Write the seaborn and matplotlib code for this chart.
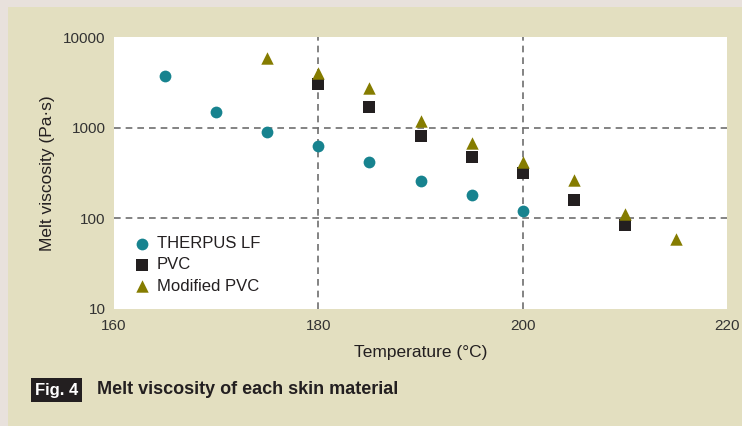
import matplotlib
matplotlib.use("Agg")
import matplotlib.pyplot as plt
import seaborn as sns
import pandas as pd
from matplotlib.patches import Rectangle
from matplotlib.ticker import NullLocator

# Data
therpus_temp = [165, 170, 175, 180, 185, 190, 195, 200]
therpus_visc = [3700, 1500, 900, 620, 420, 258, 181, 121]
pvc_temp = [180, 185, 190, 195, 200, 205, 210]
pvc_visc = [3000, 1690, 810, 475, 316, 160, 85]
mod_temp = [175, 180, 185, 190, 195, 200, 205, 210, 215]
mod_visc = [5900, 4000, 2740, 1190, 680, 420, 265, 112, 59]
series_names = ["THERPUS LF", "PVC", "Modified PVC"]
x_ticks = [160, 180, 200, 220]
y_ticks = [10, 100, 1000, 10000]

df = pd.concat([
    pd.DataFrame({"T": therpus_temp, "V": therpus_visc, "S": series_names[0]}),
    pd.DataFrame({"T": pvc_temp, "V": pvc_visc, "S": series_names[1]}),
    pd.DataFrame({"T": mod_temp, "V": mod_visc, "S": series_names[2]}),
])

sns.set_style("white")
plt.rcParams['font.family'] = ['Liberation Sans', 'DejaVu Sans']

fig = plt.figure(figsize=(7.42, 4.26), dpi=100)
fig.patch.set_facecolor("#e8e1dc")
fig.patches.append(Rectangle((8 / 742, 0), 1 - 8 / 742, 1 - 7 / 426,
                             transform=fig.transFigure, facecolor="#e3dfc0",
                             edgecolor="none", zorder=-10))

ax = fig.add_axes([114 / 742, 1 - 309 / 426, (727 - 114) / 742, (309 - 37) / 426])
ax.set_zorder(1)
ax.set_facecolor("white")

palette = {"THERPUS LF": "#17838f", "PVC": "#231f20", "Modified PVC": "#857c00"}
markers = {"THERPUS LF": "o", "PVC": "s", "Modified PVC": "^"}
sizes = {"THERPUS LF": 72, "PVC": 72, "Modified PVC": 80}

for name in series_names:
    sub = df[df["S"] == name]
    sns.scatterplot(data=sub, x="T", y="V", ax=ax, color=palette[name],
                    marker=markers[name], s=sizes[name], linewidth=0,
                    label=name, zorder=3)

ax.set_yscale("log")
ax.set_xlim(160, 220)
ax.set_ylim(10, 10000)
tick_font = ["Liberation Sans Narrow", "Liberation Sans"]
ax.set_xticks(x_ticks, labels=[str(v) for v in x_ticks], fontfamily=tick_font,
              fontsize=11, color="#333333")
ax.set_yticks(y_ticks, labels=[str(v) for v in y_ticks], fontfamily=tick_font,
              fontsize=11, color="#333333")
ax.yaxis.set_minor_locator(NullLocator())

for v in [180, 200]:
    ax.axvline(v, color="#6e6e6e", linestyle=(0, (4, 3)), linewidth=1.2, zorder=1)
for v in [100, 1000]:
    ax.axhline(v, color="#6e6e6e", linestyle=(0, (4, 3)), linewidth=1.2, zorder=1)

for s in ax.spines.values():
    s.set_visible(False)
ax.tick_params(axis="x", length=0, pad=7.5)
ax.tick_params(axis="y", length=0, pad=6)

ax.set_xlabel("Temperature (°C)", fontsize=12.5, color="#231f20")
ax.set_ylabel("Melt viscosity (Pa·s)", fontsize=12.5, color="#231f20")
ax.xaxis.set_label_coords(0.5, -(353 - 309) / 272, transform=ax.transAxes)
ax.yaxis.set_label_coords(-(114 - 47) / 613, 0.5, transform=ax.transAxes)
ax.xaxis.label.set_va("center")
ax.yaxis.label.set_va("center")

leg = ax.legend(loc="upper left", bbox_to_anchor=(0.022, 0.293), frameon=False,
                fontsize=12, handletextpad=0.35, labelspacing=0.38,
                borderaxespad=0, handlelength=1.0)
for t in leg.get_texts():
    t.set_color("#231f20")

fig.text(35 / 742, 1 - 390 / 426, "Fig. 4", fontsize=12, fontweight="bold",
         color="white", va="center", ha="left",
         bbox=dict(boxstyle="square,pad=0.25", facecolor="#231f20", edgecolor="none"))
fig.text(97 / 742, 1 - 389 / 426, "Melt viscosity of each skin material",
         fontsize=13, fontweight="bold", color="#231f20", va="center", ha="left")

fig.savefig("out.png", dpi=100, facecolor=fig.get_facecolor())
